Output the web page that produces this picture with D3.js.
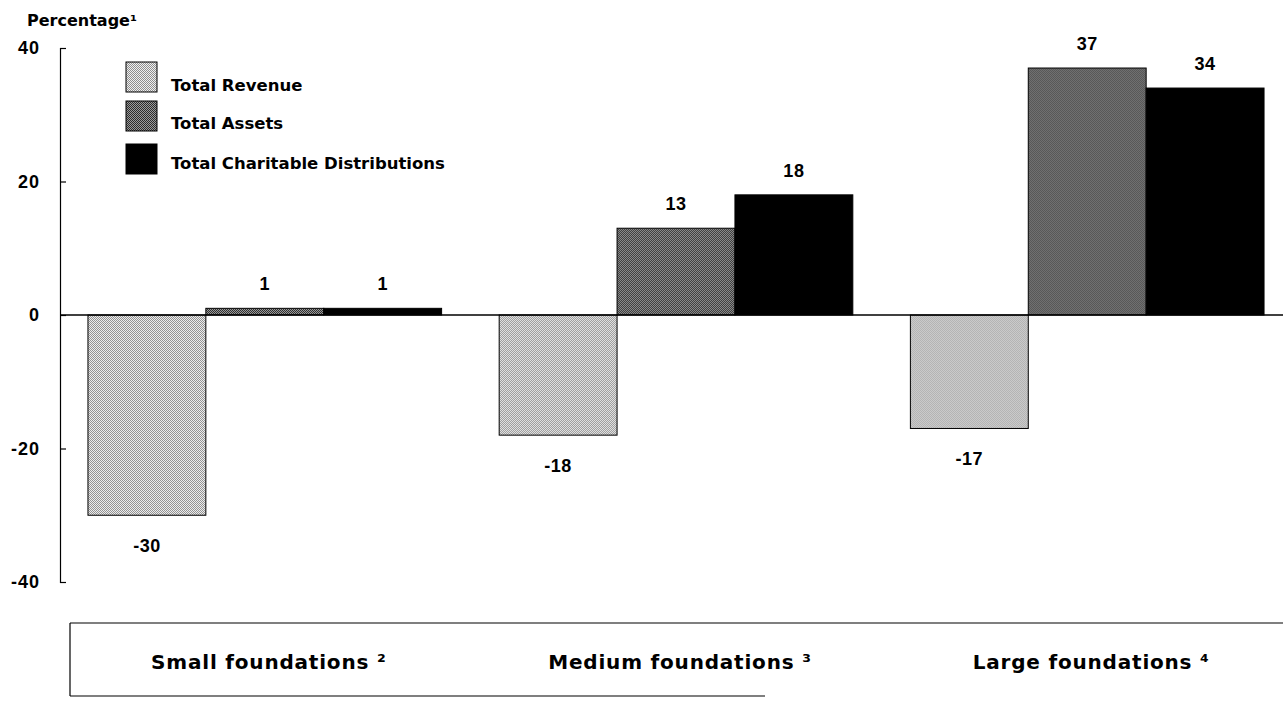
<!DOCTYPE html>
<html>
<head>
<meta charset="utf-8">
<script src="https://cdn.jsdelivr.net/npm/d3@7"></script>
<style>
  html, body { margin: 0; padding: 0; background: #fff; }
  svg { display: block; font-weight: bold; }
  .sans { font-family: "DejaVu Sans", sans-serif; font-weight: bold; }
  .num { font-family: "Liberation Sans", Arial, sans-serif; font-weight: bold; }
</style>
</head>
<body>
<svg id="chart" width="1283" height="705"></svg>
<script>
// Percentage change by foundation size
const categories = ["Small foundations", "Medium foundations", "Large foundations"];
const footnotes = ["2", "3", "4"];
const seriesNames = ["Total Revenue", "Total Assets", "Total Charitable Distributions"];
const totalRevenue = [-30, -18, -17];
const totalAssets = [1, 13, 37];
const totalCharitable = [1, 18, 34];
const yTicks = [-40, -20, 0, 20, 40];

const seriesValues = [totalRevenue, totalAssets, totalCharitable];
const supDigits = {"1": "\u00B9", "2": "\u00B2", "3": "\u00B3", "4": "\u2074"};

const svg = d3.select("#chart");

// Dithered fills that imitate halftone screens
const defs = svg.append("defs");
function checker(id, a, b) {
  const p = defs.append("pattern").attr("id", id)
    .attr("width", 2).attr("height", 2).attr("patternUnits", "userSpaceOnUse");
  p.append("rect").attr("width", 2).attr("height", 2).attr("fill", a);
  p.append("rect").attr("width", 1).attr("height", 1).attr("fill", b);
  p.append("rect").attr("x", 1).attr("y", 1).attr("width", 1).attr("height", 1).attr("fill", b);
}
checker("fillRevenue", "#f0f0f0", "#8e8e8e");
checker("fillAssets", "#9c9c9c", "#2c2c2c");
const fills = ["url(#fillRevenue)", "url(#fillAssets)", "#000"];

const axisX = 60;
const y = d3.scaleLinear().domain([-40, 40]).range([582, 48]);
const x0 = d3.scaleBand().domain(categories).range([axisX, 1292])
  .paddingInner(0.14).paddingOuter(0.068);
const x1 = d3.scaleBand().domain(seriesNames).range([0, x0.bandwidth()]);

// Y axis: ticks pointing into the plot
const axis = svg.append("g").attr("transform", `translate(${axisX},0)`)
  .call(d3.axisLeft(y).tickValues(yTicks).tickFormat(d => String(d))
    .tickSizeInner(-6).tickSizeOuter(-6).tickPadding(20));
axis.attr("font-family", null).attr("font-size", null);
axis.select(".domain").attr("stroke", "#000").attr("stroke-width", 1.2);
axis.selectAll(".tick line").attr("stroke", "#000").attr("stroke-width", 1.2);
axis.selectAll(".tick text").attr("class", "num").attr("font-size", 18)
  .attr("font-weight", "bold").attr("letter-spacing", 1).attr("fill", "#000");

svg.append("text").attr("class", "sans").attr("x", 27).attr("y", 26)
  .attr("font-size", 16).text("Percentage" + supDigits["1"]);

// Bars
const groups = svg.selectAll("g.group").data(categories).join("g")
  .attr("class", "group")
  .attr("transform", d => `translate(${x0(d)},0)`);

groups.each(function(cat, ci) {
  const g = d3.select(this);
  seriesNames.forEach((s, si) => {
    const v = seriesValues[si][ci];
    const top = y(Math.max(v, 0)), bot = y(Math.min(v, 0));
    g.append("rect")
      .attr("x", x1(s)).attr("width", x1.bandwidth())
      .attr("y", top).attr("height", Math.max(bot - top, 2))
      .attr("fill", fills[si])
      .attr("stroke", "#000").attr("stroke-width", 1);
    g.append("text").attr("class", "num")
      .attr("x", x1(s) + x1.bandwidth() / 2)
      .attr("y", v >= 0 ? y(v) - 18 : y(v) + 37)
      .attr("text-anchor", "middle").attr("font-size", 18)
      .attr("font-weight", "bold").attr("letter-spacing", 0.5)
      .text(v);
  });
});

// Zero line
svg.append("line").attr("x1", axisX).attr("x2", 1283)
  .attr("y1", y(0)).attr("y2", y(0)).attr("stroke", "#000").attr("stroke-width", 1.5);

// Legend
const legendRows = [62, 101, 144];
const legendText = [91, 129, 169];
const legend = svg.append("g");
seriesNames.forEach((s, i) => {
  legend.append("rect").attr("x", 126).attr("y", legendRows[i]).attr("width", 31).attr("height", 30)
    .attr("fill", fills[i]).attr("stroke", "#000").attr("stroke-width", 1);
  legend.append("text").attr("class", "sans").attr("x", 171).attr("y", legendText[i])
    .attr("font-size", 16.5).text(s);
});

// Category box beneath the plot
const box = svg.append("g").attr("stroke", "#000").attr("stroke-width", 1.2).attr("fill", "none");
box.append("line").attr("x1", 70).attr("x2", 1283).attr("y1", 623).attr("y2", 623);
box.append("line").attr("x1", 70).attr("x2", 70).attr("y1", 623).attr("y2", 696);
box.append("line").attr("x1", 70).attr("x2", 765).attr("y1", 696).attr("y2", 696);

svg.selectAll("text.cat").data(categories).join("text")
  .attr("class", "cat sans")
  .attr("x", d => x0(d) + x0.bandwidth() / 2 + 4)
  .attr("y", 669)
  .attr("text-anchor", "middle").attr("font-size", 20)
  .attr("letter-spacing", 0.8)
  .text((d, i) => d + " " + supDigits[footnotes[i]]);
</script>
</body>
</html>
